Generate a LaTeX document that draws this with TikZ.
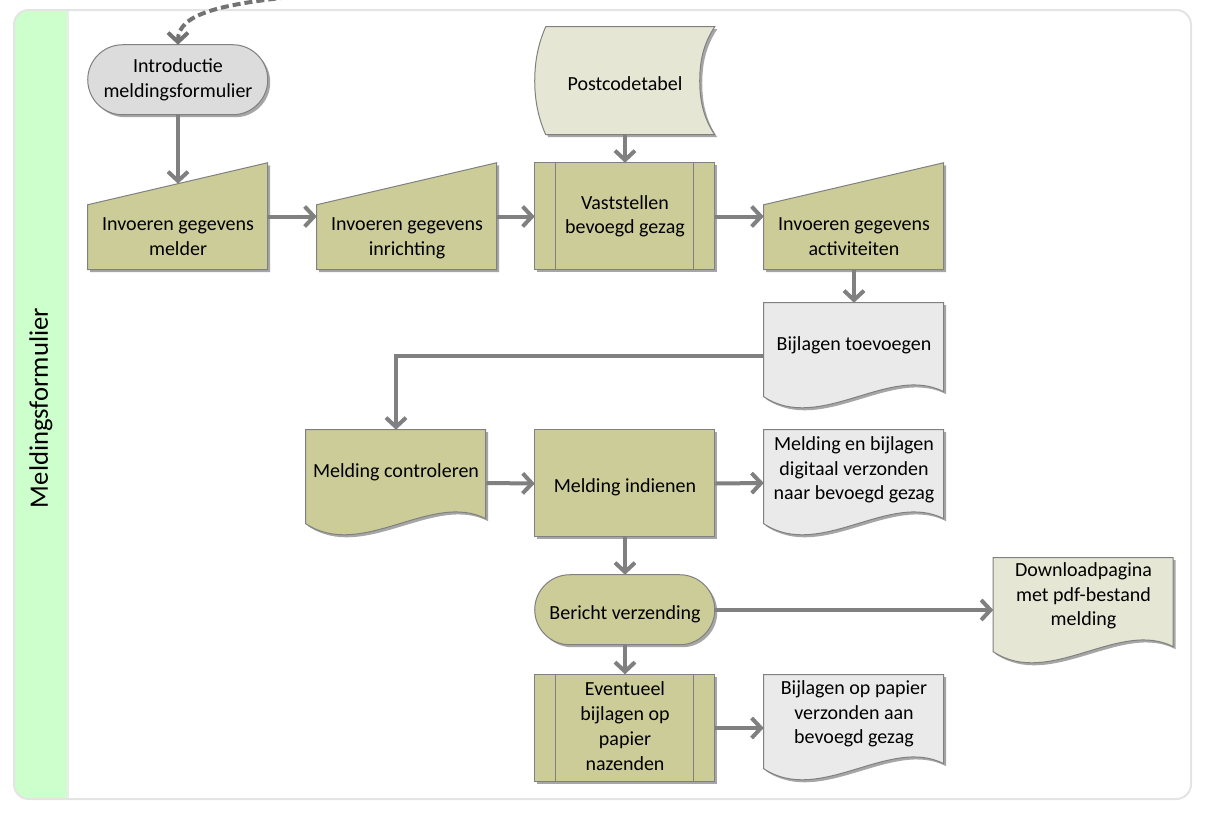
\documentclass[tikz,border=0pt]{standalone}
\usepackage{fontspec}
\setmainfont{Carlito}
\usetikzlibrary{arrows.meta,calc}
\pgfdeclarelayer{frame}
\pgfdeclarelayer{shapes}
\pgfsetlayers{frame,shapes,main}
\definecolor{cOlive}{RGB}{204,204,153}
\definecolor{cDoc}{RGB}{234,234,234}
\definecolor{cBeige}{RGB}{230,230,212}
\definecolor{cIntro}{RGB}{220,220,220}
\definecolor{cBorder}{RGB}{128,128,128}
\definecolor{cArrow}{RGB}{128,128,128}
\definecolor{cFrame}{RGB}{228,228,228}
\definecolor{cGreen}{RGB}{204,255,204}
\newcommand\nodefont{\fontsize{15}{18.6}\selectfont}
\newcommand\titlefont{\fontsize{20}{22}\selectfont}
\newcommand\vstrut{\rule[-2.8pt]{0pt}{19.8pt}}
\newcommand\shp[3]{\begin{scope}[shift={(#1.north west)}]
 \fill[shadowc,shift={(2.5,2.5)}] [#3];
 \filldraw[shapeline,#2] [#3];
\end{scope}}
\newcommand\prelines[1]{\begin{scope}[shift={(#1.north west)}]
 \draw[shapeline] (21,0) -- (21,107) (159,0) -- (159,107);
\end{scope}}
\tikzset{
 box/.style={minimum width=135pt, minimum height=80.25pt, inner sep=0pt, align=center, font=\nodefont, text=black, execute at begin node=\vstrut, execute at end node=\vstrut},
 stad/.style={box, minimum height=52.5pt},
 doc/.style={box, minimum height=79.5pt},
 stored/.style={box, minimum height=81pt},
 txt/.style={font=\nodefont, align=center, inner sep=0pt, text=black, execute at begin node=\vstrut, execute at end node=\vstrut},
 shapeline/.style={draw=cBorder, line width=0.75pt},
 shadowc/.style={fill=black!35},
 conn/.style={draw=cArrow, line width=3pt, -{Straight Barb[length=7pt,width=15pt]}},
 dashconn/.style={conn, draw=black!55, dash pattern=on 6pt off 3pt},
 pManual/.style={insert path={(0,42) -- (180,0) -- (180,107) -- (0,107) -- cycle}},
 pDoc/.style={insert path={(0,0) -- (180,0) -- (180,89) .. controls (126,61) and (56,131) .. (0,94) -- cycle}},
 pRect/.style={insert path={(0,0) rectangle (180,107)}},
 pStadium/.style={insert path={(35,0) -- (145,0) arc[start angle=-90, end angle=90, radius=35] -- (35,70) arc[start angle=90, end angle=270, radius=35] -- cycle}},
 pStored/.style={insert path={(11,0) -- (180,0) .. controls (168,18) and (165,36) .. (165,54) .. controls (165,72) and (168,90) .. (180,108) -- (11,108) .. controls (3,90) and (0,72) .. (0,54) .. controls (0,36) and (3,18) .. (11,0) -- cycle}},
}
\begin{document}
\begin{tikzpicture}[x=0.75pt,y=-0.75pt]
\useasboundingbox (0,0) rectangle (1208,818);

% nodes
\node[stad] (intro) at (178,80) {Introductie\\meldingsformulier};
\node[box, label={[txt,yshift=-16.5pt]center:{Invoeren gegevens\\melder}}] (melder) at (178,216.5) {};
\node[box, label={[txt,yshift=-16.5pt]center:{Invoeren gegevens\\inrichting}}] (inrichting) at (407,216.5) {};
\node[box] (vast) at (625,216.5) {Vaststellen\\bevoegd gezag};
\node[stored] (post) at (625,81) {Postcodetabel};
\node[box, label={[txt,yshift=-16.5pt]center:{Invoeren gegevens\\activiteiten}}] (activ) at (854,216.5) {};
\node[doc, label={[txt,yshift=11.25pt]center:{Bijlagen toevoegen}}] (bijl) at (854,356) {};
\node[doc, label={[txt,yshift=11.25pt]center:{Melding controleren}}] (contr) at (396,483) {};
\node[box] (indienen) at (625,483.5) {Melding indienen};
\node[doc, label={[txt,yshift=9.75pt]center:{Melding en bijlagen\\digitaal verzonden\\naar bevoegd gezag}}] (digit) at (854,483) {};
\node[stad] (bericht) at (625,610) {Bericht verzending};
\node[doc, label={[txt,yshift=11.25pt]center:{Downloadpagina\\met pdf-bestand\\melding}}] (download) at (1083.5,611) {};
\node[box] (eventueel) at (625,728) {Eventueel\\bijlagen op\\papier\\nazenden};
\node[doc, label={[txt,yshift=10.5pt]center:{Bijlagen op papier\\verzonden aan\\bevoegd gezag}}] (papier) at (854,728) {};
\node[rotate=90, font=\titlefont] (lane) at (41,408) {Meldingsformulier};

% frame
\begin{pgfonlayer}{frame}
\fill[white, rounded corners=11pt] (14,10) rectangle (1191,799);
\begin{scope}
\clip[rounded corners=11pt] (14,10) rectangle (1191,799);
\fill[cGreen] (14,10) rectangle (68,799);
\end{scope}
\draw[cFrame!70!white, line width=1pt] (68,10) -- (68,799);
\draw[cFrame, line width=1.5pt, rounded corners=11pt] (14,10) rectangle (1191,799);
\end{pgfonlayer}

% shapes
\begin{pgfonlayer}{shapes}
\shp{intro}{fill=cIntro}{pStadium}
\shp{melder}{fill=cOlive}{pManual}
\shp{inrichting}{fill=cOlive}{pManual}
\shp{vast}{fill=cOlive}{pRect}
\prelines{vast}
\shp{post}{fill=cBeige}{pStored}
\shp{activ}{fill=cOlive}{pManual}
\shp{bijl}{fill=cDoc}{pDoc}
\shp{contr}{fill=cOlive}{pDoc}
\shp{indienen}{fill=cOlive}{pRect}
\shp{digit}{fill=cDoc}{pDoc}
\shp{bericht}{fill=cOlive}{pStadium}
\shp{download}{fill=cBeige}{pDoc}
\shp{eventueel}{fill=cOlive}{pRect}
\prelines{eventueel}
\shp{papier}{fill=cDoc}{pDoc}
\end{pgfonlayer}

% connectors
\coordinate (dstart) at (300,-4);
\draw[dashconn] (dstart) .. controls (220,4) and (178,14) .. (intro.north);
\draw[conn] (intro.south) -- ($(melder.north)+(0,21)$);
\draw[conn] (melder.east) -- (inrichting.west);
\draw[conn] (inrichting.east) -- (vast.west);
\draw[conn] (post.south) -- (vast.north);
\draw[conn] (vast.east) -- (activ.west);
\draw[conn] (activ.south) -- (bijl.north);
\draw[conn] (bijl.west) -| (contr.north);
\draw[conn] (contr.east) -- (indienen.west);
\draw[conn] (indienen.east) -- (digit.west);
\draw[conn] (indienen.south) -- (bericht.north);
\draw[conn] (bericht.east) -- (bericht.east -| download.west);
\draw[conn] (bericht.south) -- (eventueel.north);
\draw[conn] (eventueel.east) -- (papier.west);
\end{tikzpicture}
\end{document}
